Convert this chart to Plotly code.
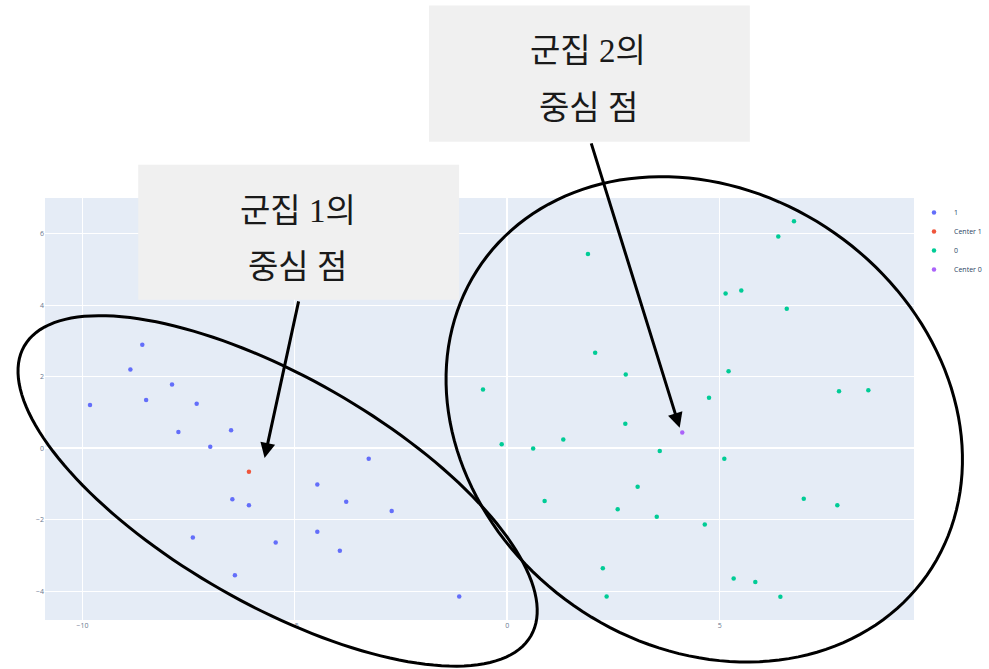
import numpy as np
import plotly.graph_objects as go

# ---------------- data ----------------
c1_x = [-9.82, -8.59, -8.87, -8.50, -7.89, -7.31, -7.74, -6.50, -6.99, -6.47, -6.08,
        -4.47, -7.40, -5.45, -4.47, -3.94, -6.41, -3.26, -3.79, -2.72, -1.13]
c1_y = [1.21, 2.89, 2.20, 1.35, 1.78, 1.24, 0.45, 0.50, 0.04, -1.43, -1.60,
        -1.02, -2.50, -2.64, -2.34, -2.87, -3.56, -0.30, -1.50, -1.76, -4.15]
center1_x = [-6.08]
center1_y = [-0.66]

c0_x = [1.90, 2.07, 2.79, -0.57, 4.75, 2.78, -0.13, 0.61, 1.32, 3.59, 3.07, 0.88,
        2.60, 3.52, 4.65, 2.25, 2.34, 6.75, 6.38, 5.14, 5.51, 6.58, 5.21, 7.81,
        8.50, 5.11, 6.98, 7.77, 5.33, 5.84, 6.43]
c0_y = [5.43, 2.67, 2.06, 1.64, 1.41, 0.68, 0.11, -0.01, 0.24, -0.08, -1.08, -1.48,
        -1.71, -1.92, -2.14, -3.36, -4.15, 6.35, 5.92, 4.33, 4.41, 3.90, 2.15, 1.59,
        1.62, -0.30, -1.42, -1.60, -3.65, -3.75, -4.16]
center0_x = [4.12]
center0_y = [0.44]

series_names = ["1", "Center 1", "0", "Center 0"]
x_ticks = [-10, -5, 0, 5]
y_ticks = [-4, -2, 0, 2, 4, 6]

box1_lines = ["군집 1의", "중심 점"]
box2_lines = ["군집 2의", "중심 점"]

# ---------------- layout helpers (reference pixel -> paper) ----------------
REF_W, H = 989, 669
SX = 999 / 989          # horizontal compensation for the viewer
W = 999
L, R, T, B = 45, 911.7, 198.3, 620.0


def px(x):
    return (x - L) / (R - L)


def py(y):
    return (B - y) / (B - T)


def ellipse_path(cx, cy, a, b, deg, n=160):
    th = np.radians(deg)
    t = np.linspace(0, 2 * np.pi, n, endpoint=False)
    xs = cx + a * np.cos(th) * np.cos(t) - b * np.sin(th) * np.sin(t)
    ys = cy + a * np.sin(th) * np.cos(t) + b * np.cos(th) * np.sin(t)
    pts = [f"{px(x):.5f},{py(y):.5f}" for x, y in zip(xs, ys)]
    return "M" + " L".join(pts) + " Z"


colors = ["#636efa", "#EF553B", "#00cc96", "#ab63fa"]

fig = go.Figure()
for name, xs, ys, col in zip(series_names,
                             [c1_x, center1_x, c0_x, center0_x],
                             [c1_y, center1_y, c0_y, center0_y],
                             colors):
    fig.add_trace(go.Scatter(x=xs, y=ys, mode="markers", name=name,
                             marker=dict(color=col, size=4.5)))

shapes = [
    # text boxes
    dict(type="rect", xref="paper", yref="paper", x0=px(138), x1=px(458),
         y0=py(300), y1=py(165), fillcolor="#f0f0f0", line=dict(width=0), layer="above"),
    dict(type="rect", xref="paper", yref="paper", x0=px(428), x1=px(748),
         y0=py(142), y1=py(6), fillcolor="#f0f0f0", line=dict(width=0), layer="above"),
    # ellipses
    dict(type="path", xref="paper", yref="paper",
         path=ellipse_path(277, 491, 291.2, 113.6, 29.8),
         line=dict(color="black", width=3), layer="above"),
    dict(type="path", xref="paper", yref="paper",
         path=ellipse_path(702.5, 419.5, 271.2, 227.1, 35),
         line=dict(color="black", width=3), layer="above"),
]

tfont = dict(family="Liberation Serif, Noto Sans CJK KR", size=33, color="#1a1a1a")
annotations = []
for lines, cxp, ys in [(box1_lines, 297, [211, 267]), (box2_lines, 587, [51, 108])]:
    for txt, yy in zip(lines, ys):
        annotations.append(dict(text=txt, xref="paper", yref="paper", x=px(cxp), y=py(yy),
                                xanchor="center", yanchor="middle", showarrow=False, font=tfont))

# arrows
annotations.append(dict(text="", xref="paper", yref="paper", x=px(264), y=py(458),
                        ax=34 * SX, ay=-158, showarrow=True, arrowhead=2, arrowsize=1,
                        arrowwidth=3, arrowcolor="black", standoff=0))
annotations.append(dict(text="", xref="paper", yref="paper", x=px(678), y=py(428),
                        ax=-88 * SX, ay=-286, showarrow=True, arrowhead=2, arrowsize=1,
                        arrowwidth=3, arrowcolor="black", standoff=0))

fig.update_layout(
    width=W, height=H, autosize=False,
    template="plotly",
    margin=dict(l=L * SX, r=W - R * SX, t=T, b=H - B),
    paper_bgcolor="white",
    plot_bgcolor="#E5ECF6",
    showlegend=True,
    legend=dict(x=1.0, y=1.0, xanchor="left", yanchor="top",
                font=dict(size=7, color="#2a3f5f")),
    xaxis=dict(range=[-10.88, 9.575], tickvals=x_ticks, showgrid=True,
               gridcolor="white", zerolinecolor="white", zerolinewidth=1.5,
               tickfont=dict(size=7, color="#6a7890")),
    yaxis=dict(range=[-4.81, 7.0], tickvals=y_ticks, showgrid=True,
               gridcolor="white", zerolinecolor="white", zerolinewidth=1.5,
               tickfont=dict(size=7, color="#6a7890")),
    shapes=shapes,
    annotations=annotations,
)

fig.write_html("out.html",
               config={"responsive": False, "displayModeBar": False},
               post_script="document.body.style.margin='0';document.body.style.overflow='hidden';")
